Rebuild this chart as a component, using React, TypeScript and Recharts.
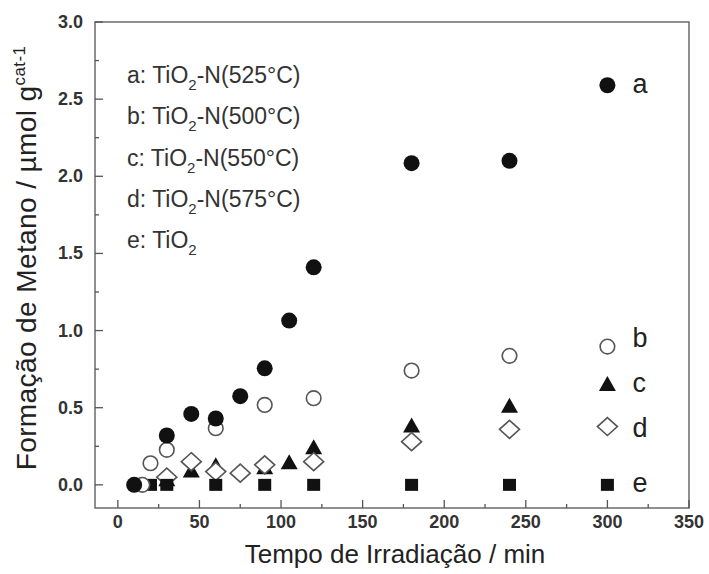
import React from 'react';
import { ScatterChart, Scatter, XAxis, YAxis, ReferenceArea, Label } from 'recharts';

const FONT = '"Liberation Sans", Arial, Helvetica, sans-serif';
const INK = '#222';

// axis ticks (major every 50 min / 0.5, minor in between)
const xTicks = [0, 25, 50, 75, 100, 125, 150, 175, 200, 225, 250, 275, 300, 325, 350];
const yTicks = [0, 0.25, 0.5, 0.75, 1, 1.25, 1.5, 1.75, 2, 2.25, 2.5, 2.75, 3];

// a: TiO2-N(525°C)
const timeA = [10, 30, 45, 60, 75, 90, 105, 120, 180, 240, 300];
const methA = [0, 0.32, 0.46, 0.43, 0.575, 0.755, 1.065, 1.41, 2.085, 2.1, 2.59];
// b: TiO2-N(500°C)
const timeB = [15, 20, 30, 60, 90, 120, 180, 240, 300];
const methB = [0, 0.14, 0.227, 0.367, 0.518, 0.562, 0.741, 0.836, 0.896];
// c: TiO2-N(550°C)
const timeC = [30, 45, 60, 90, 105, 120, 180, 240, 300];
const methC = [0.03, 0.086, 0.12, 0.108, 0.14, 0.238, 0.378, 0.507, 0.648];
// d: TiO2-N(575°C)
const timeD = [30, 45, 60, 75, 90, 120, 180, 240, 300];
const methD = [0.05, 0.15, 0.086, 0.076, 0.13, 0.15, 0.28, 0.36, 0.378];
// e: TiO2
const timeE = [20, 30, 60, 90, 120, 180, 240, 300];
const methE = [0, 0, 0, 0, 0, 0, 0, 0];

const legendHead = ['a: TiO', 'b: TiO', 'c: TiO', 'd: TiO', 'e: TiO'];
const legendTail = ['-N(525°C)', '-N(500°C)', '-N(550°C)', '-N(575°C)', ''];

const toRows = (times: number[], vals: number[], tag: string) =>
  times.map((t, i) => ({ x: t, y: vals[i], tag: i === times.length - 1 ? tag : '' }));

const endLabel = (p: any, dy: number) =>
  p.payload && p.payload.tag ? (
    <text x={p.cx + 25} y={p.cy + dy} fontSize={27} fontFamily={FONT} fill={INK}>
      {p.payload.tag}
    </text>
  ) : null;

const FilledCircle = (p: any) => (
  <g>
    <circle cx={p.cx} cy={p.cy} r={8} fill="#111" />
    {endLabel(p, 8)}
  </g>
);

const OpenCircle = (p: any) => (
  <g>
    <circle cx={p.cx} cy={p.cy} r={7.3} fill="#fff" stroke="#555" strokeWidth={1.6} />
    {endLabel(p, 0)}
  </g>
);

const FilledTriangle = (p: any) => (
  <g>
    <polygon
      points={`${p.cx},${p.cy - 9} ${p.cx - 8.5},${p.cy + 6} ${p.cx + 8.5},${p.cy + 6}`}
      fill="#111"
    />
    {endLabel(p, 7)}
  </g>
);

const OpenDiamond = (p: any) => (
  <g>
    <polygon
      points={`${p.cx},${p.cy - 9} ${p.cx + 10},${p.cy} ${p.cx},${p.cy + 9} ${p.cx - 10},${p.cy}`}
      fill="#fff"
      stroke="#555"
      strokeWidth={1.6}
    />
    {endLabel(p, 10)}
  </g>
);

const FilledSquare = (p: any) => (
  <g>
    <rect x={p.cx - 6.5} y={p.cy - 6} width={13} height={12} fill="#111" />
    {endLabel(p, 7)}
  </g>
);

const XTick = (props: any) => {
  const { x, y, payload } = props;
  const major = payload.value % 50 === 0;
  return (
    <g>
      <line x1={x} y1={y} x2={x} y2={y - (major ? 8 : 4)} stroke="#555" strokeWidth={1.3} />
      {major && (
        <text x={x} y={y + 20} textAnchor="middle" fontSize={18} fontWeight="bold" fontFamily={FONT} fill="#333">
          {payload.value}
        </text>
      )}
    </g>
  );
};

const YTick = (props: any) => {
  const { x, y, payload } = props;
  const v = payload.value as number;
  const major = Math.abs(v * 2 - Math.round(v * 2)) < 1e-6;
  return (
    <g>
      <line x1={x} y1={y} x2={x + (major ? 8 : 4)} y2={y} stroke="#555" strokeWidth={1.3} />
      {major && (
        <text x={x - 12} y={y + 6} textAnchor="end" fontSize={18} fontWeight="bold" fontFamily={FONT} fill="#333">
          {v.toFixed(1)}
        </text>
      )}
    </g>
  );
};

export default function App() {
  return (
    <div style={{ position: 'absolute', left: 0, top: 0, width: 709, height: 574, background: '#fff' }}>
      <ScatterChart width={709} height={574} margin={{ top: 22, right: 20, bottom: 0, left: 0 }}>
        <XAxis
          type="number"
          dataKey="x"
          domain={[-14, 350]}
          ticks={xTicks}
          interval={0}
          allowDataOverflow
          axisLine={false}
          tickLine={false}
          tickSize={0}
          tickMargin={0}
          height={66}
          tick={<XTick />}
        >
          <Label
            content={(p: any) => (
              <text
                x={p.viewBox.x + p.viewBox.width / 2 + 3}
                y={p.viewBox.y + 55}
                textAnchor="middle"
                fontSize={26}
                fontFamily={FONT}
                fill={INK}
              >
                Tempo de Irradiação / min
              </text>
            )}
          />
        </XAxis>
        <YAxis
          type="number"
          dataKey="y"
          domain={[-0.15, 3]}
          ticks={yTicks}
          interval={0}
          allowDataOverflow
          axisLine={false}
          tickLine={false}
          tickSize={0}
          tickMargin={0}
          width={95}
          tick={<YTick />}
        >
          <Label
            content={(p: any) => {
              const cx = 36;
              const cy = p.viewBox.y + p.viewBox.height / 2 - 7;
              return (
                <text
                  x={cx}
                  y={cy}
                  transform={`rotate(-90, ${cx}, ${cy})`}
                  textAnchor="middle"
                  fontSize={28}
                  letterSpacing={0.4}
                  fontFamily={FONT}
                  fill={INK}
                >
                  Formação de Metano / µmol g
                  <tspan fontSize={17} dy={-11}>cat-1</tspan>
                </text>
              );
            }}
          />
        </YAxis>
        <Scatter data={toRows(timeC, methC, 'c')} shape={<FilledTriangle />} isAnimationActive={false} />
        <Scatter data={toRows(timeD, methD, 'd')} shape={<OpenDiamond />} isAnimationActive={false} />
        <Scatter data={toRows(timeE, methE, 'e')} shape={<FilledSquare />} isAnimationActive={false} />
        <Scatter data={toRows(timeB, methB, 'b')} shape={<OpenCircle />} isAnimationActive={false} />
        <Scatter data={toRows(timeA, methA, 'a')} shape={<FilledCircle />} isAnimationActive={false} />
        <ReferenceArea x1={-14} x2={350} y1={-0.15} y2={3} fill="none" stroke="#6b6b6b" strokeWidth={1.5} />
      </ScatterChart>
      <svg
        width={709}
        height={574}
        style={{ position: 'absolute', left: 0, top: 0, pointerEvents: 'none' }}
      >
        {legendHead.map((head, i) => (
          <text key={head + i} x={127} y={83 + i * 41.3} fontSize={23} fontFamily={FONT} fill="#333">
            {head}
            <tspan fontSize={15} dy={7}>2</tspan>
            <tspan dy={-7}>{legendTail[i]}</tspan>
          </text>
        ))}
      </svg>
    </div>
  );
}
